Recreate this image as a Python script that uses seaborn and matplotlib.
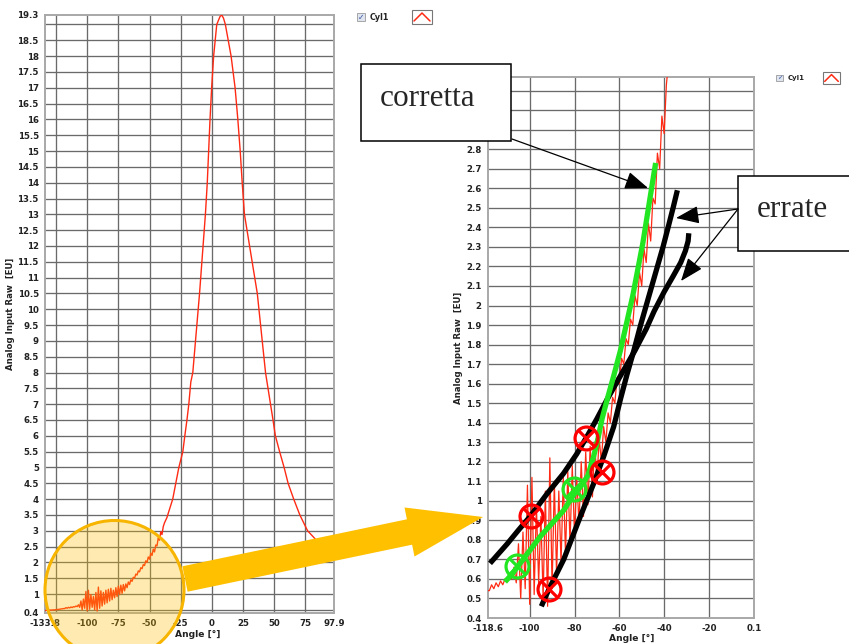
import numpy as np
import pandas as pd
import matplotlib
matplotlib.use("Agg")
import matplotlib.pyplot as plt
import seaborn as sns
from matplotlib.patches import Ellipse, Polygon, Rectangle, FancyArrowPatch
from matplotlib.lines import Line2D

sns.set_style("white")
plt.rcParams["font.family"] = ["DejaVu Sans"]

# ---------------- measured signal: crank angle [deg] vs raw input [EU] ----------------
angle_head = [-133.8, -130, -126, -122, -119]
raw_head = [0.48, 0.49, 0.50, 0.52, 0.54]

angle_low = [-118, -117, -116, -115, -114, -113, -112, -111, -110, -109,
             -108, -107, -106, -105, -104, -103, -102, -101, -100, -99,
             -98, -97, -96, -95, -94, -93, -92, -91, -90, -89,
             -88, -87, -86, -85, -84, -83, -82, -81, -80, -79,
             -78, -77, -76, -75, -74, -73, -72, -71, -70, -69,
             -68, -67, -66, -65, -64, -63, -62, -61, -60, -59,
             -58, -57, -56, -55, -54, -53, -52, -51, -50, -49,
             -48, -47, -46, -45, -44, -43, -42, -41, -40, -39, -38]
raw_low = [0.54, 0.57, 0.55, 0.58, 0.56, 0.59, 0.57, 0.60, 0.59, 0.62,
           0.60, 0.66, 0.58, 0.78, 0.50, 0.84, 0.55, 1.08, 0.47, 1.12,
           0.52, 0.98, 0.58, 0.92, 0.50, 1.05, 0.46, 1.22, 0.55, 1.10,
           0.62, 1.05, 0.68, 1.12, 0.72, 1.15, 0.78, 1.18, 0.82, 1.12,
           0.88, 1.20, 0.92, 1.25, 0.98, 1.28, 1.02, 1.30, 1.10, 1.32,
           1.20, 1.38, 1.30, 1.45, 1.40, 1.53, 1.50, 1.63, 1.60, 1.73,
           1.70, 1.83, 1.80, 1.93, 1.90, 2.05, 2.00, 2.17, 2.10, 2.29,
           2.22, 2.42, 2.33, 2.55, 2.52, 2.78, 2.70, 2.97, 2.88, 3.13, 3.25]

angle_peak = [-36, -35.4, -31.4, -26.5, -23.3, -21.7, -20, -18.5, -16.9, -15.3,
              -9.9, -5.2, -3.7, -2.6, -1.5, -0.2, 1.4, 3.9, 6.5, 7.9,
              9.3, 10.8, 15.4, 18.6, 20.8, 22.7, 24.3, 26.1, 36.4, 43,
              49, 50.9, 54.3, 57.9, 61.1, 65.6, 70.5, 76.7, 82.6, 90, 97.9]
raw_peak = [3.42, 3.5, 4.0, 5.0, 5.5, 6.0, 6.5, 7.0, 7.7, 8.0,
            10.5, 13.0, 14.0, 15.0, 16.0, 17.0, 18.0, 19.0, 19.25, 19.3,
            19.2, 19.0, 18.0, 17.0, 16.0, 15.0, 14.0, 13.0, 10.5, 8.0,
            6.5, 6.0, 5.5, 5.0, 4.5, 4.0, 3.5, 3.0, 2.75, 2.4, 2.1]

# ---------------- hand-drawn fits on the zoomed view ----------------
fit_ok_angle = [-111, -107.5, -104.3, -100, -95.3, -90, -84.9, -80.4, -77.4, -74,
                -71.4, -69.5, -67.7, -65.4, -62.5, -59.5, -54, -49.5, -43.8]
fit_ok_raw = [0.585, 0.63, 0.68, 0.745, 0.817, 0.885, 0.95, 1.03, 1.07, 1.13,
              1.23, 1.32, 1.42, 1.52, 1.64, 1.77, 2.05, 2.32, 2.73]

fit_a_angle = [-117.7, -110, -105, -99.8, -92, -84.9, -79, -74.4, -70, -65.4,
               -60, -53, -48, -44.5, -40, -36, -32.6, -30.5, -29.3, -29]
fit_a_raw = [0.68, 0.78, 0.85, 0.92, 1.04, 1.14, 1.24, 1.33, 1.42, 1.52,
             1.63, 1.77, 1.88, 1.97, 2.07, 2.15, 2.22, 2.28, 2.33, 2.37]

fit_b_angle = [-94.8, -92.5, -90, -84.8, -77.4, -71.4, -66.9, -62.5, -59.5, -56.5,
               -53.5, -50.5, -48, -45.5, -43, -40.5, -38, -36, -34.1]
fit_b_raw = [0.46, 0.52, 0.58, 0.70, 0.92, 1.09, 1.23, 1.38, 1.52, 1.65,
             1.77, 1.90, 2.00, 2.10, 2.20, 2.30, 2.41, 2.50, 2.59]

wrong_pts_angle = [-99.3, -91.3, -74.7, -67.7]
wrong_pts_raw = [0.923, 0.547, 1.32, 1.15]
good_pts_angle = [-105.7, -80.4]
good_pts_raw = [0.668, 1.06]

# ---------------- axis ticks ----------------
left_xticks = [-133.8, -100, -75, -50, -25, 0, 25, 50, 75, 97.9]
left_yticks = [0.4, 1, 1.5, 2, 2.5, 3, 3.5, 4, 4.5, 5, 5.5, 6, 6.5, 7, 7.5, 8, 8.5,
               9, 9.5, 10, 10.5, 11, 11.5, 12, 12.5, 13, 13.5, 14, 14.5, 15,
               15.5, 16, 16.5, 17, 17.5, 18, 18.5, 19.3]
right_xticks = [-118.6, -100, -80, -60, -40, -20, 0.1]
right_yticks = [0.4, 0.5, 0.6, 0.7, 0.8, 0.9, 1, 1.1, 1.2, 1.3, 1.4, 1.5, 1.6, 1.7,
                1.8, 1.9, 2, 2.1, 2.2, 2.3, 2.4, 2.5, 2.6, 2.7, 2.8]

signal = pd.DataFrame({
    "Angle": angle_head + angle_low + angle_peak,
    "Raw": raw_head + raw_low + raw_peak,
})

W, H = 849, 644
fig = plt.figure(figsize=(W / 100, H / 100), dpi=100)
fig.patch.set_facecolor("white")


def fx(px):
    return px / W


def fy(py):
    return 1 - py / H


def fmt(v):
    return ("%g" % v)


TICK_KW = dict(fontsize=6.2, fontweight="bold", color="#222222")


def style_axes(ax, xlim, ylim, xticks, yticks, xgrid, ygrid):
    ax.set_xlim(*xlim)
    ax.set_ylim(*ylim)
    ax.set_xticks(xticks)
    ax.set_xticklabels([fmt(v) for v in xticks], **TICK_KW)
    ax.set_yticks(yticks)
    ax.set_yticklabels([fmt(v) for v in yticks], **TICK_KW)
    # keep grid positions even where they coincide with labelled ticks
    ax.xaxis.remove_overlapping_locs = False
    ax.yaxis.remove_overlapping_locs = False
    ax.set_xticks(xgrid, minor=True)
    ax.set_yticks(ygrid, minor=True)
    ax.grid(False, which="major")
    ax.grid(True, which="minor", color="#6a6a6a", lw=0.95)
    ax.set_axisbelow(True)
    ax.tick_params(which="minor", length=0)
    ax.tick_params(which="major", length=3, width=0.8, color="#777777", pad=1.5)
    for s in ax.spines.values():
        s.set_color("#a8a8a8")
        s.set_linewidth(1.4)
    ax.set_xlabel("Angle [°]", fontsize=6.6, fontweight="bold", color="#222222", labelpad=1)
    ax.set_ylabel("Analog Input Raw  [EU]", fontsize=6.2, fontweight="bold", color="#222222", labelpad=2)


# ---------------- full cycle view ----------------
ax1 = fig.add_axes([fx(45), fy(613), 289 / W, 598 / H])
sns.lineplot(data=signal, x="Angle", y="Raw", ax=ax1, sort=False, estimator=None,
             color="#ff2a14", lw=1.0, zorder=3)
style_axes(ax1, (-133.8, 97.9), (0.4, 19.3), left_xticks, left_yticks,
           np.arange(-125, 76, 25), np.arange(0.5, 19.01, 0.5))
ax1.xaxis.set_label_coords(0.53, -0.028)

# ---------------- zoomed view of the compression ramp ----------------
ax2 = fig.add_axes([fx(488), fy(618), 266 / W, 541 / H])
sns.lineplot(data=signal, x="Angle", y="Raw", ax=ax2, sort=False, estimator=None,
             color="#ff2a14", lw=0.9, zorder=3)
sns.lineplot(x=fit_a_angle, y=fit_a_raw, ax=ax2, sort=False, estimator=None,
             color="black", lw=3.8, zorder=4, solid_capstyle="butt")
sns.lineplot(x=fit_b_angle, y=fit_b_raw, ax=ax2, sort=False, estimator=None,
             color="black", lw=3.8, zorder=4, solid_capstyle="butt")
sns.lineplot(x=fit_ok_angle, y=fit_ok_raw, ax=ax2, sort=False, estimator=None,
             color="#22e622", lw=3.8, zorder=5, solid_capstyle="butt")
for xs, ys, col in ((wrong_pts_angle, wrong_pts_raw, "#ff0000"),
                    (good_pts_angle, good_pts_raw, "#22e622")):
    ax2.plot(xs, ys, ls="none", marker="o", ms=16.5, mfc="none", mec=col, mew=2.3, zorder=6)
    ax2.plot(xs, ys, ls="none", marker="x", ms=11.5, mec=col, mew=2.3, zorder=6)
style_axes(ax2, (-118.6, 0.1), (0.4, 3.17), right_xticks, right_yticks,
           np.arange(-100, -19, 20), np.arange(0.5, 3.11, 0.1))
ax2.xaxis.set_label_coords(0.54, -0.03)

# ---------------- highlight circle and pointer arrow ----------------
fig.add_artist(Ellipse((fx(114.5), fy(590)), 139 / W, 139 / H, transform=fig.transFigure,
                       facecolor=(1.0, 0.753, 0.0, 0.30), edgecolor="#f7b500", lw=2.2, zorder=10))
arrow_px = [(182.4, 566.3), (406.9, 519.3), (404.5, 507.5), (483.0, 517.0),
            (414.5, 556.5), (412.1, 544.7), (187.6, 591.7)]
fig.add_artist(Polygon([(fx(a), fy(b)) for a, b in arrow_px], closed=True,
                       transform=fig.transFigure, facecolor="#ffc000", edgecolor="none", zorder=11))

# ---------------- callout boxes ----------------
SERIF = ["Liberation Serif", "DejaVu Serif"]
fig.add_artist(Rectangle((fx(361), fy(141)), 150 / W, 77 / H, transform=fig.transFigure,
                         facecolor="white", edgecolor="black", lw=1.1, zorder=12))
fig.text(fx(380), fy(106), "corretta", family=SERIF, fontsize=22.5, va="baseline", ha="left", zorder=13)
fig.add_artist(Rectangle((fx(738), fy(251)), 120 / W, 75 / H, transform=fig.transFigure,
                         facecolor="white", edgecolor="black", lw=1.1, zorder=12))
fig.text(fx(757), fy(217), "errate", family=SERIF, fontsize=22.5, va="baseline", ha="left", zorder=13)

for (x0, y0), (x1, y1) in (((512, 139), (648, 188)),
                           ((738, 209), (676, 218)),
                           ((738, 209), (681, 281))):
    fig.add_artist(FancyArrowPatch((fx(x0), fy(y0)), (fx(x1), fy(y1)), transform=fig.transFigure,
                                   arrowstyle="-|>,head_length=1.3,head_width=0.5", mutation_scale=11,
                                   color="black", lw=0.9, shrinkA=0, shrinkB=0, zorder=14))


# ---------------- plot legends ----------------
def legend(cx, cy, icon_x, scale=1.0):
    s = 8 * scale
    fig.add_artist(Rectangle((fx(cx), fy(cy + s / 2)), s / W, s / H, transform=fig.transFigure,
                             facecolor="#dfe4ee", edgecolor="#9a9a9a", lw=0.6, zorder=12))
    fig.text(fx(cx + s / 2), fy(cy), "✓", fontsize=5.5 * scale, color="#3050a0",
             ha="center", va="center", zorder=13)
    fig.text(fx(cx + s + 5), fy(cy), "Cyl1", fontsize=5.8 * scale, fontweight="bold",
             color="#222222", ha="left", va="center", zorder=13)
    iw, ih = 20 * scale, 14 * scale
    fig.add_artist(Rectangle((fx(icon_x), fy(cy + ih / 2)), iw / W, ih / H, transform=fig.transFigure,
                             facecolor="white", edgecolor="#777777", lw=0.8, zorder=12))
    xs = [icon_x + 2 * scale, icon_x + iw / 2, icon_x + iw - 2 * scale]
    ys = [cy + 4 * scale, cy - 4 * scale, cy + 4 * scale]
    fig.add_artist(Line2D([fx(v) for v in xs], [fy(v) for v in ys], transform=fig.transFigure,
                          color="#ff2a14", lw=1.1, zorder=13))


legend(357, 17, 412)
legend(776, 78, 823, scale=0.85)

fig.savefig("out.png", dpi=100, facecolor="white")
